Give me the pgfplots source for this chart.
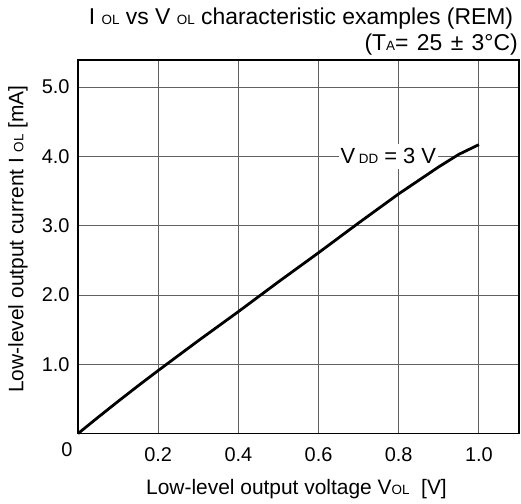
\documentclass[border=0pt]{standalone}
\usepackage{pgfplots}
\pgfplotsset{compat=1.18}
\usepackage{fontspec}
\setmainfont{Liberation Sans}

\newcommand{\sub}[1]{{\fontsize{13.5}{13.5}\selectfont #1}}

\begin{document}
\begin{tikzpicture}
\path[use as bounding box] (-78bp,-70.4bp) rectangle (443bp,433.6bp);
\begin{axis}[
    at={(0,0)}, anchor=south west,
    scale only axis,
    width=441bp, height=373.5bp,
    xmin=0, xmax=1.1, ymin=0, ymax=5.39,
    xtick={0.2,0.4,0.6,0.8,1.0},
    ytick={1,2,3,4,5},
    /pgf/number format/fixed,
    /pgf/number format/fixed zerofill,
    /pgf/number format/precision=1,
    /pgf/number format/assume math mode=true,
    ticklabel style={font=\fontsize{20}{20}\selectfont},
    xticklabel style={yshift=-11pt},
    yticklabel style={xshift=-5pt},
    major tick length=0pt,
    grid=major,
    grid style={black!62, line width=1pt},
    axis line style={black, line width=1.3pt},
    xlabel={Low-level output voltage V\sub{OL}\ \ [V]},
    ylabel={Low-level output current I \sub{OL} [mA]},
    every axis x label/.style={at={(axis description cs:0.5,0)}, anchor=base,
        yshift=-60.4bp, xshift=-2bp, font=\fontsize{21}{21}\selectfont},
    every axis y label/.style={at={(axis description cs:-0.136,0.521)}, anchor=center,
        rotate=90, font=\fontsize{21}{21}\selectfont},
    clip=false,
]
% label first, so the curve stays on top of its white box
\node[fill=white, inner xsep=2pt, inner ysep=5pt, font=\fontsize{22}{22}\selectfont]
    at (axis cs:0.774,4.0) {V\,\sub{DD} = 3 V};
\addplot[black, line width=2.8pt] coordinates {
    (0,0) (0.05,0.235) (0.1,0.465) (0.15,0.69) (0.2,0.91) (0.3,1.34)
    (0.4,1.76) (0.5,2.19) (0.6,2.61) (0.7,3.04) (0.8,3.46)
    (0.9,3.85) (0.95,4.03) (1.0,4.17)
};
\node[anchor=center, font=\fontsize{20}{20}\selectfont]
    at ([xshift=-11bp, yshift=-16.5bp]axis cs:0,0) {0};
\end{axis}
\node[anchor=base, font=\fontsize{23}{23}\selectfont]
    at (223bp,409.5bp) {I \sub{OL} vs V \sub{OL} characteristic examples (REM)};
\node[anchor=base east, font=\fontsize{23}{23}\selectfont, inner sep=0pt]
    at (440bp,383.5bp) {(T\sub{A}=\hspace{2pt} 25\hspace{2pt} \textpm\hspace{2pt} 3\textdegree C)};
\end{tikzpicture}
\end{document}
